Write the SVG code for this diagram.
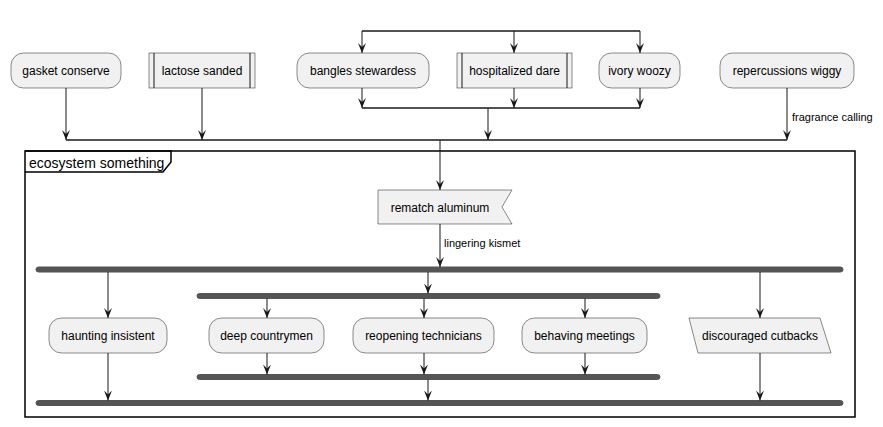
<svg xmlns="http://www.w3.org/2000/svg" width="883" height="427" viewBox="0 0 883 427">
<style>
.n{fill:#F1F1F1;stroke:#181818;stroke-width:0.5}
.t{font-family:"Liberation Sans",Arial,sans-serif;font-size:12px;fill:#000;text-anchor:middle}
.l{font-family:"Liberation Sans",Arial,sans-serif;font-size:11px;fill:#000}
.c{fill:none;stroke:#181818;stroke-width:1}
.m{fill:none;stroke:#181818;stroke-width:1.5}
.b{fill:#555555;stroke:#555555;stroke-width:1}
</style>
<defs>
<marker id="a" markerUnits="userSpaceOnUse" markerWidth="10" markerHeight="10" viewBox="0 0 10 8" refX="10" refY="4" orient="auto">
<path d="M0,0 L10,4 L0,8 L4,4 Z" fill="#181818"/>
</marker>
</defs>
<rect width="883" height="427" fill="#FFFFFF"/>
<g id="frame">
<rect x="25" y="151" width="830" height="266" fill="none" stroke="#000" stroke-width="1.5"/>
<path d="M25,151 H171 V162 L163,172 H25" fill="none" stroke="#000" stroke-width="1.5"/>
<text x="29" y="167.5" font-family="Liberation Sans,Arial,sans-serif" font-size="14">ecosystem something</text>
</g>
<g id="gasket"><rect class="n" x="11" y="53" width="110" height="35" rx="12.5"/><text class="t" x="66" y="75">gasket conserve</text></g>
<g id="lactose"><rect class="n" x="149" y="53" width="106" height="35"/><path class="c" d="M154,53 V88 M250,53 V88" stroke-width="0.5"/><text class="t" x="202" y="75">lactose sanded</text></g>
<g id="bangles"><rect class="n" x="297" y="53" width="132" height="35" rx="12.5"/><text class="t" x="363" y="75">bangles stewardess</text></g>
<g id="hospitalized"><rect class="n" x="457" y="53" width="115" height="35"/><path class="c" d="M462,53 V88 M567,53 V88" stroke-width="0.5"/><text class="t" x="514.5" y="75">hospitalized dare</text></g>
<g id="ivory"><rect class="n" x="599" y="53" width="81" height="35" rx="12.5"/><text class="t" x="639.5" y="75">ivory woozy</text></g>
<g id="repercussions"><rect class="n" x="720" y="53" width="134" height="35" rx="12.5"/><text class="t" x="787" y="75">repercussions wiggy</text></g>
<g id="rematch"><path class="n" d="M378,190 H512 L502,207 L512,224 H378 Z"/><text class="t" x="440" y="212">rematch aluminum</text></g>
<g id="haunting"><rect class="n" x="49" y="318" width="118" height="35" rx="12.5"/><text class="t" x="108" y="340">haunting insistent</text></g>
<g id="deep"><rect class="n" x="209" y="318" width="115" height="35" rx="12.5"/><text class="t" x="266.5" y="340">deep countrymen</text></g>
<g id="reopening"><rect class="n" x="353" y="318" width="141" height="35" rx="12.5"/><text class="t" x="423.5" y="340">reopening technicians</text></g>
<g id="behaving"><rect class="n" x="522" y="318" width="125" height="35" rx="12.5"/><text class="t" x="584.5" y="340">behaving meetings</text></g>
<g id="discouraged"><path class="n" d="M689,318 H820 L831,353 H698 Z"/><text class="t" x="760" y="340">discouraged cutbacks</text></g>
<g id="bars">
<rect class="b" x="36" y="267" width="807" height="5" rx="2.5"/>
<rect class="b" x="197" y="293.5" width="463" height="5" rx="2.5"/>
<rect class="b" x="197" y="374.5" width="463" height="5" rx="2.5"/>
<rect class="b" x="36" y="400.5" width="807" height="5" rx="2.5"/>
</g>
<g id="connectors">
<path class="m" d="M362,31 H640"/>
<path class="c" d="M362,31 V53" marker-end="url(#a)"/>
<path class="c" d="M514,31 V53" marker-end="url(#a)"/>
<path class="c" d="M640,31 V53" marker-end="url(#a)"/>
<path class="c" d="M362,88 V108" marker-end="url(#a)"/>
<path class="c" d="M514,88 V108" marker-end="url(#a)"/>
<path class="c" d="M640,88 V108" marker-end="url(#a)"/>
<path class="m" d="M362,108 H640"/>
<path class="c" d="M488,108 V140" marker-end="url(#a)"/>
<path class="c" d="M66,88 V140" marker-end="url(#a)"/>
<path class="c" d="M202,88 V140" marker-end="url(#a)"/>
<path class="c" d="M787,88 V140" marker-end="url(#a)"/>
<text class="l" x="792" y="120.5">fragrance calling</text>
<path class="m" d="M66,140 H787"/>
<path class="c" d="M440,140 V190" marker-end="url(#a)"/>
<path class="c" d="M440,224 V267" marker-end="url(#a)"/>
<text class="l" x="444" y="247">lingering kismet</text>
<path class="c" d="M108,272 V318" marker-end="url(#a)"/>
<path class="c" d="M428,272 V293.5" marker-end="url(#a)"/>
<path class="c" d="M760,272 V318" marker-end="url(#a)"/>
<path class="c" d="M267,298.5 V318" marker-end="url(#a)"/>
<path class="c" d="M424,298.5 V318" marker-end="url(#a)"/>
<path class="c" d="M585,298.5 V318" marker-end="url(#a)"/>
<path class="c" d="M267,353 V374.5" marker-end="url(#a)"/>
<path class="c" d="M424,353 V374.5" marker-end="url(#a)"/>
<path class="c" d="M585,353 V374.5" marker-end="url(#a)"/>
<path class="c" d="M428,379.5 V400.5" marker-end="url(#a)"/>
<path class="c" d="M108,353 V400.5" marker-end="url(#a)"/>
<path class="c" d="M760,353 V400.5" marker-end="url(#a)"/>
</g>
</svg>
